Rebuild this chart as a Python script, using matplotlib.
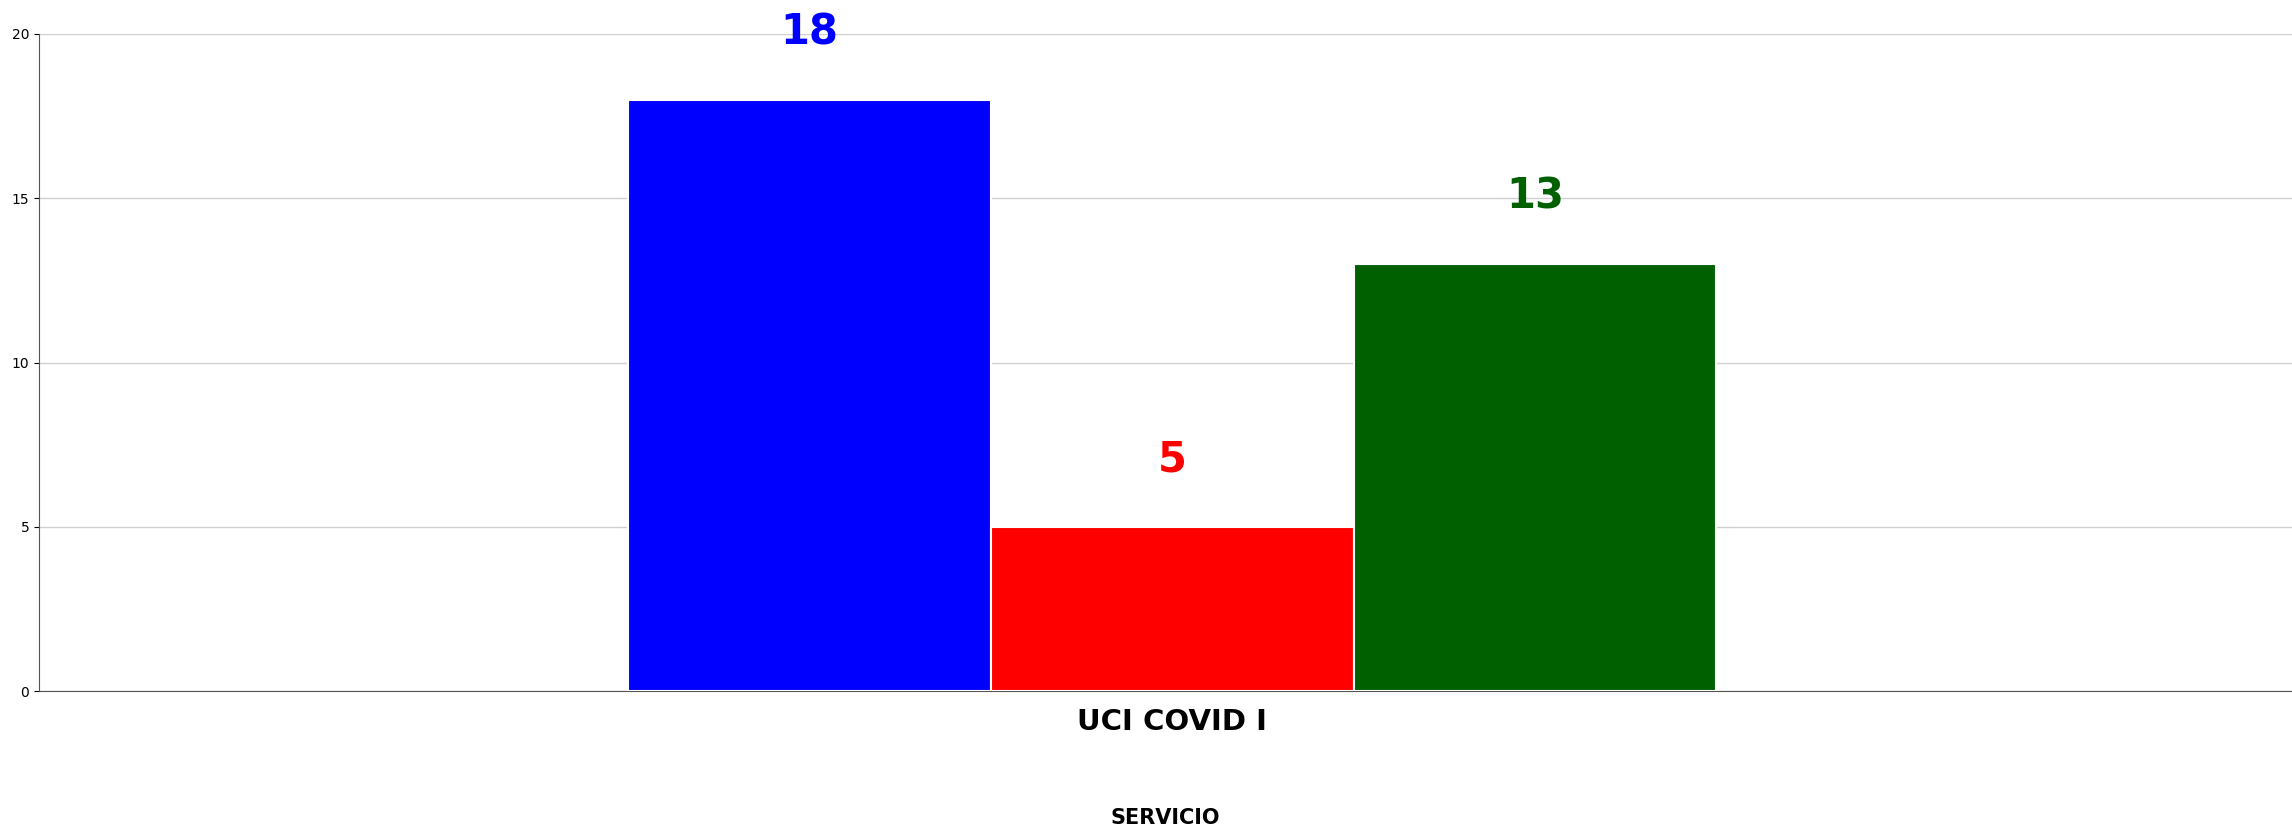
import numpy as np
import matplotlib.pyplot as plt

category = "UCI COVID I"
values = [18, 5, 13]
colors = ["#0000ff", "#ff0000", "#006000"]
yticks = [0, 5, 10, 15, 20]

fig = plt.figure(figsize=(22.92, 8.26), dpi=100)
ax = fig.add_axes([0.017, 0.163, 0.983, 0.796])
w = 0.161
offsets = np.array([-1, 0, 1]) * w + 0.003
for off, v, c in zip(offsets, values, colors):
    ax.bar(off, v, width=w, color=c, edgecolor="white", linewidth=1.5, zorder=3)
    ax.text(off, v + 1.4, str(v), color=c, ha="center", va="bottom",
            fontsize=30, fontweight="heavy")
ax.set_xlim(-0.5, 0.5)
ax.set_ylim(0, 20)
ax.set_yticks(yticks)
ax.set_xticks([0.003])
ax.set_xticklabels([category], fontsize=21, fontweight="heavy")
ax.set_xlabel("SERVICIO", fontsize=15, fontweight="bold", labelpad=52)
ax.tick_params(axis="y", labelsize=10)
ax.tick_params(axis="x", length=0, pad=12)
ax.grid(axis="y", color="#d0d0d0", linewidth=1, zorder=0)
for s in ["top", "right"]:
    ax.spines[s].set_visible(False)
for s in ["left", "bottom"]:
    ax.spines[s].set_color("#555555")
fig.savefig("out.png", dpi=100)
